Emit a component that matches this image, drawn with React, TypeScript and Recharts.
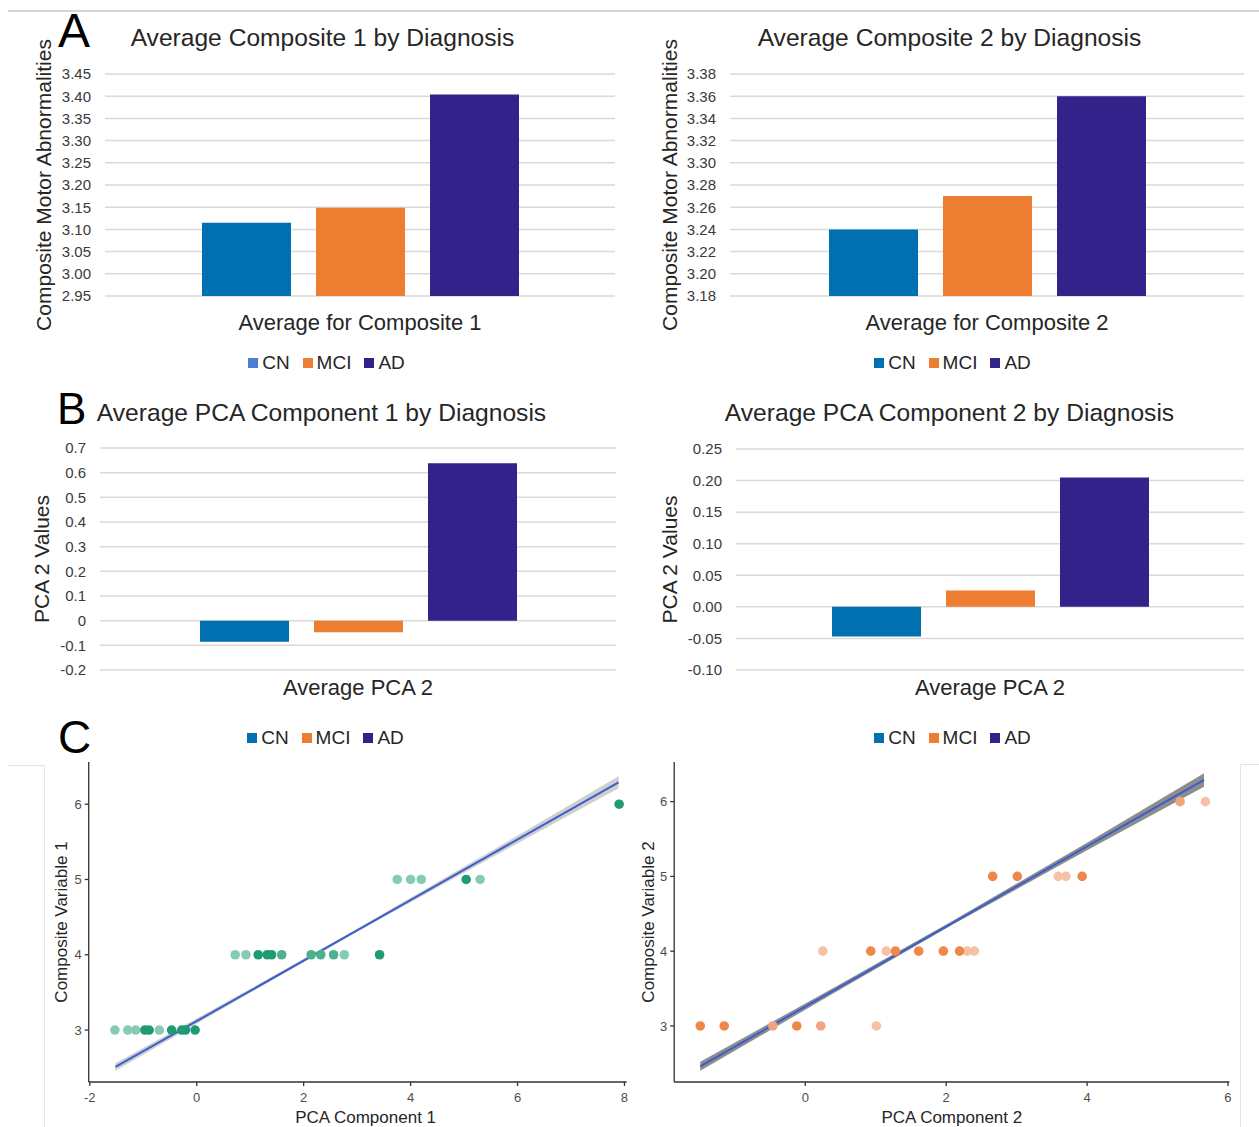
import React from "react"
import {
  Area,
  Bar,
  BarChart,
  CartesianGrid,
  ComposedChart,
  Legend,
  Line,
  Scatter,
  XAxis,
  YAxis,
  ZAxis,
} from "recharts"

const FONT = '"Liberation Sans", Arial, sans-serif'

const DIAGNOSES = ["CN", "MCI", "AD"]
const DIAGNOSIS_COLORS = ["#0070B0", "#ED7D31", "#32228A"]
const LEGEND_COLORS_A1 = ["#4A7FCF", "#ED7D31", "#32228A"]

// bar means per diagnosis (CN, MCI, AD)
const COMPOSITE1_MEANS = [3.115, 3.149, 3.404]
const COMPOSITE2_MEANS = [3.24, 3.27, 3.36]
const PCA1_MEANS = [-0.085, -0.047, 0.638]
const PCA2_MEANS = [-0.047, 0.026, 0.205]

const COMPOSITE1_TICKS = [2.95, 3, 3.05, 3.1, 3.15, 3.2, 3.25, 3.3, 3.35, 3.4, 3.45]
const COMPOSITE2_TICKS = [3.18, 3.2, 3.22, 3.24, 3.26, 3.28, 3.3, 3.32, 3.34, 3.36, 3.38]
const PCA1_TICKS = [-0.2, -0.1, 0, 0.1, 0.2, 0.3, 0.4, 0.5, 0.6, 0.7]
const PCA2_TICKS = [-0.1, -0.05, 0, 0.05, 0.1, 0.15, 0.2, 0.25]

// scatter C, PCA component 1 vs composite 1 (shade = overlap density)
const PCA1_LIGHT: [number, number][] = [
  [-1.53, 3], [-1.29, 3], [-1.14, 3], [-0.7, 3],
  [0.72, 4], [0.92, 4], [2.76, 4],
  [3.75, 5], [4.0, 5], [4.2, 5], [5.3, 5],
]
const PCA1_MID: [number, number][] = [[1.59, 4], [2.14, 4], [2.32, 4], [2.56, 4]]
const PCA1_DARK: [number, number][] = [
  [-0.97, 3], [-0.89, 3], [-0.47, 3], [-0.28, 3], [-0.21, 3], [-0.03, 3],
  [1.15, 4], [1.32, 4], [1.4, 4], [3.42, 4],
  [5.04, 5], [7.9, 6],
]
const FIT1_X = [-1.52, 1.0, 3.0, 5.5, 7.89]
const FIT1_Y = [2.51, 3.52, 4.325, 5.33, 6.29]
const FIT1_LO = [2.46, 3.495, 4.305, 5.285, 6.21]
const FIT1_HI = [2.56, 3.545, 4.345, 5.375, 6.37]

// scatter C, PCA component 2 vs composite 2
const PCA2_LIGHT: [number, number][] = [
  [1.01, 3], [0.25, 4], [1.15, 4], [2.3, 4], [2.4, 4], [3.59, 5], [3.7, 5], [5.68, 6],
]
const PCA2_MID: [number, number][] = [[-0.46, 3], [0.22, 3], [5.32, 6]]
const PCA2_DARK: [number, number][] = [
  [-1.49, 3], [-1.15, 3], [-0.12, 3],
  [0.93, 4], [1.28, 4], [1.61, 4], [1.96, 4], [2.19, 4],
  [2.66, 5], [3.01, 5], [3.93, 5],
]
const FIT2_X = [-1.49, 0.5, 2.1, 4.0, 5.66]
const FIT2_Y = [2.46, 3.526, 4.383, 5.401, 6.29]
const FIT2_LO = [2.4, 3.49, 4.36, 5.35, 6.2]
const FIT2_HI = [2.52, 3.56, 4.41, 5.45, 6.38]

const TEAL_SHADES = ["#86CCB3", "#4DB18E", "#1E9B72"]
const ORANGE_SHADES = ["#F6C2A6", "#F2A47E", "#EE8749"]

type Margin = { top: number; right: number; bottom: number; left: number }

function DiagnosisLegend({ colors }: { colors: string[] }) {
  return (
    <ul
      style={{
        margin: 0,
        padding: 0,
        listStyle: "none",
        textAlign: "center",
        whiteSpace: "nowrap",
        fontFamily: FONT,
        fontSize: 19,
        color: "#262626",
      }}
    >
      {DIAGNOSES.map((d, i) => (
        <li key={d} style={{ display: "inline-block", marginRight: i < DIAGNOSES.length - 1 ? 13 : 0 }}>
          <span
            style={{
              display: "inline-block",
              width: 10,
              height: 10,
              background: colors[i],
              marginRight: 4,
              verticalAlign: "middle",
            }}
          />
          <span style={{ verticalAlign: "middle" }}>{d}</span>
        </li>
      ))}
    </ul>
  )
}

function DiagnosisBars({
  left,
  top,
  width,
  height,
  margin,
  axisWidth,
  category,
  means,
  ticks,
  formatTick,
  yLabel,
  categoryMargin,
  legendCenter,
  legendTop,
  legendColors,
}: {
  left: number
  top: number
  width: number
  height: number
  margin: Margin
  axisWidth: number
  category: string
  means: number[]
  ticks: number[]
  formatTick: (v: number) => string
  yLabel: string
  categoryMargin: number
  legendCenter: number
  legendTop: number
  legendColors: string[]
}) {
  const row: Record<string, string | number> = { name: category }
  DIAGNOSES.forEach((d, i) => {
    row[d] = means[i]
  })

  return (
    <div style={{ position: "absolute", left, top }}>
      <BarChart width={width} height={height} data={[row]} margin={margin} barSize={89} barGap={25}>
        <CartesianGrid vertical={false} stroke="#D9D9D9" strokeWidth={1.5} />
        <XAxis
          dataKey="name"
          axisLine={false}
          tickLine={false}
          tickSize={0}
          tickMargin={categoryMargin}
          tick={{ fill: "#262626", fontSize: 22, fontFamily: FONT }}
        />
        <YAxis
          width={axisWidth}
          type="number"
          domain={[ticks[0], ticks[ticks.length - 1]]}
          ticks={ticks}
          interval={0}
          allowDataOverflow
          axisLine={false}
          tickLine={false}
          tickSize={0}
          tickMargin={14}
          tickFormatter={formatTick}
          tick={{ fill: "#3A3A3A", fontSize: 15, fontFamily: FONT }}
          label={{
            value: yLabel,
            angle: -90,
            position: "insideLeft",
            offset: 14,
            style: { textAnchor: "middle", fill: "#262626", fontSize: 21, fontFamily: FONT },
          }}
        />
        {DIAGNOSES.map((d, i) => (
          <Bar key={d} dataKey={d} fill={DIAGNOSIS_COLORS[i]} isAnimationActive={false} />
        ))}
        <Legend
          verticalAlign="middle"
          align="center"
          layout="horizontal"
          wrapperStyle={{ left: legendCenter - 150, top: legendTop, width: 300 }}
          content={() => <DiagnosisLegend colors={legendColors} />}
        />
      </BarChart>
    </div>
  )
}

function FitScatter({
  left,
  top,
  width,
  height,
  margin,
  axisWidth,
  xDomain,
  yDomain,
  xTicks,
  fitX,
  fitY,
  fitLo,
  fitHi,
  points,
  shades,
  xLabel,
  yLabel,
  labelOffset,
  xLabelShift,
  bandColor,
  bandOpacity,
}: {
  left: number
  top: number
  width: number
  height: number
  margin: Margin
  axisWidth: number
  xDomain: [number, number]
  yDomain: [number, number]
  xTicks: number[]
  fitX: number[]
  fitY: number[]
  fitLo: number[]
  fitHi: number[]
  points: [number, number][][]
  shades: string[]
  xLabel: string
  yLabel: string
  labelOffset: number
  xLabelShift: number
  bandColor: string
  bandOpacity: number
}) {
  const fitData = fitX.map((x, i) => ({ x, y: fitY[i], band: [fitLo[i], fitHi[i]] }))
  const tickStyle = { fill: "#4D4D4D", fontSize: 13, fontFamily: FONT }

  return (
    <div style={{ position: "absolute", left, top }}>
      <ComposedChart width={width} height={height} data={fitData} margin={margin}>
        <XAxis
          type="number"
          dataKey="x"
          domain={xDomain}
          ticks={xTicks}
          interval={0}
          allowDataOverflow
          height={45}
          stroke="#333333"
          strokeWidth={1.3}
          tickSize={4}
          tickMargin={7}
          tick={tickStyle}
          label={{
            value: xLabel,
            position: "insideBottom",
            offset: 4,
            dx: xLabelShift,
            style: { fill: "#262626", fontSize: 17, fontFamily: FONT },
          }}
        />
        <YAxis
          type="number"
          dataKey="y"
          width={axisWidth}
          domain={yDomain}
          ticks={[3, 4, 5, 6]}
          interval={0}
          allowDataOverflow
          stroke="#333333"
          strokeWidth={1.3}
          tickSize={4}
          tickMargin={3}
          tick={tickStyle}
          label={{
            value: yLabel,
            angle: -90,
            position: "insideLeft",
            offset: labelOffset,
            style: { textAnchor: "middle", fill: "#262626", fontSize: 17, fontFamily: FONT },
          }}
        />
        <ZAxis type="number" range={[72, 72]} />
        {points.map((set, i) => (
          <Scatter
            key={i}
            data={set.map(([x, y]) => ({ x, y }))}
            fill={shades[i]}
            isAnimationActive={false}
          />
        ))}
        <Area
          type="linear"
          dataKey="band"
          stroke="none"
          fill={bandColor}
          fillOpacity={bandOpacity}
          isAnimationActive={false}
        />
        <Line type="linear" dataKey="y" stroke="#3A5FCD" strokeWidth={2} dot={false} isAnimationActive={false} />
      </ComposedChart>
    </div>
  )
}

const fix2 = (v: number) => v.toFixed(2)
const fix1 = (v: number) => (v === 0 ? "0" : v.toFixed(1))

function PanelLetter({ text, left, top, size }: { text: string; left: number; top: number; size: number }) {
  return (
    <div style={{ position: "absolute", left, top, fontSize: size, lineHeight: `${size}px`, color: "#000" }}>
      {text}
    </div>
  )
}

function PanelTitle({ text, center, top }: { text: string; center: number; top: number }) {
  return (
    <div
      style={{
        position: "absolute",
        left: center - 300,
        top,
        width: 600,
        textAlign: "center",
        fontSize: 24.6,
        lineHeight: "24px",
        color: "#262626",
        whiteSpace: "nowrap",
      }}
    >
      {text}
    </div>
  )
}

export default function App() {
  return (
    <div
      style={{
        position: "absolute",
        left: 0,
        top: 0,
        width: 1259,
        height: 1127,
        background: "#ffffff",
        fontFamily: FONT,
        overflow: "hidden",
      }}
    >
      <div style={{ position: "absolute", left: 8, top: 10, width: 1251, height: 2, background: "#D4D4D4" }} />

      <DiagnosisBars
        left={0}
        top={0}
        width={630}
        height={380}
        margin={{ top: 74, right: 15, bottom: 54, left: 30 }}
        axisWidth={75}
        category="Average for Composite 1"
        means={COMPOSITE1_MEANS}
        ticks={COMPOSITE1_TICKS}
        formatTick={fix2}
        yLabel="Composite Motor Abnormalities"
        categoryMargin={18}
        legendCenter={326.5}
        legendTop={351}
        legendColors={LEGEND_COLORS_A1}
      />
      <DiagnosisBars
        left={630}
        top={0}
        width={629}
        height={380}
        margin={{ top: 74, right: 15, bottom: 54, left: 26 }}
        axisWidth={74}
        category="Average for Composite 2"
        means={COMPOSITE2_MEANS}
        ticks={COMPOSITE2_TICKS}
        formatTick={fix2}
        yLabel="Composite Motor Abnormalities"
        categoryMargin={18}
        legendCenter={322.5}
        legendTop={351}
        legendColors={DIAGNOSIS_COLORS}
      />
      <DiagnosisBars
        left={0}
        top={380}
        width={630}
        height={370}
        margin={{ top: 68, right: 14, bottom: 50, left: 28 }}
        axisWidth={72}
        category="Average PCA 2"
        means={PCA1_MEANS}
        ticks={PCA1_TICKS}
        formatTick={fix1}
        yLabel="PCA 2 Values"
        categoryMargin={9}
        legendCenter={325.5}
        legendTop={346}
        legendColors={DIAGNOSIS_COLORS}
      />
      <DiagnosisBars
        left={630}
        top={380}
        width={629}
        height={370}
        margin={{ top: 69, right: 15, bottom: 50, left: 26 }}
        axisWidth={80}
        category="Average PCA 2"
        means={PCA2_MEANS}
        ticks={PCA2_TICKS}
        formatTick={fix2}
        yLabel="PCA 2 Values"
        categoryMargin={9}
        legendCenter={322.5}
        legendTop={346}
        legendColors={DIAGNOSIS_COLORS}
      />

      <FitScatter
        left={0}
        top={750}
        width={640}
        height={377}
        margin={{ top: 12, right: 13.4, bottom: 0, left: 40 }}
        axisWidth={48.7}
        xDomain={[-2.02, 8.04]}
        yDomain={[2.31, 6.56]}
        xTicks={[-2, 0, 2, 4, 6, 8]}
        fitX={FIT1_X}
        fitY={FIT1_Y}
        fitLo={FIT1_LO}
        fitHi={FIT1_HI}
        points={[PCA1_LIGHT, PCA1_MID, PCA1_DARK]}
        shades={TEAL_SHADES}
        xLabel="PCA Component 1"
        yLabel="Composite Variable 1"
        labelOffset={21}
        xLabelShift={8}
        bandColor="#BDBDBD"
        bandOpacity={0.75}
      />
      <FitScatter
        left={630}
        top={750}
        width={629}
        height={377}
        margin={{ top: 12, right: 29.6, bottom: 0, left: 0 }}
        axisWidth={44.2}
        xDomain={[-1.86, 6.02]}
        yDomain={[2.25, 6.53]}
        xTicks={[0, 2, 4, 6]}
        fitX={FIT2_X}
        fitY={FIT2_Y}
        fitLo={FIT2_LO}
        fitHi={FIT2_HI}
        points={[PCA2_LIGHT, PCA2_MID, PCA2_DARK]}
        shades={ORANGE_SHADES}
        xLabel="PCA Component 2"
        yLabel="Composite Variable 2"
        labelOffset={18}
        xLabelShift={0}
        bandColor="#707070"
        bandOpacity={0.8}
      />

      <div style={{ position: "absolute", left: 8, top: 765, width: 36, height: 1, background: "#E4E4E4" }} />
      <div style={{ position: "absolute", left: 44, top: 765, width: 1, height: 362, background: "#E4E4E4" }} />
      <div style={{ position: "absolute", left: 1240, top: 764, width: 1, height: 363, background: "#E4E4E4" }} />
      <div style={{ position: "absolute", left: 1240, top: 764, width: 19, height: 1, background: "#E4E4E4" }} />

      <PanelLetter text="A" left={58} top={7} size={48} />
      <PanelLetter text="B" left={57} top={387} size={44} />
      <PanelLetter text="C" left={58} top={714} size={46} />

      <PanelTitle text="Average Composite 1 by Diagnosis" center={322.5} top={26} />
      <PanelTitle text="Average Composite 2 by Diagnosis" center={949.5} top={26} />
      <PanelTitle text="Average PCA Component 1 by Diagnosis" center={321.5} top={401} />
      <PanelTitle text="Average PCA Component 2 by Diagnosis" center={949.5} top={401} />
    </div>
  )
}
